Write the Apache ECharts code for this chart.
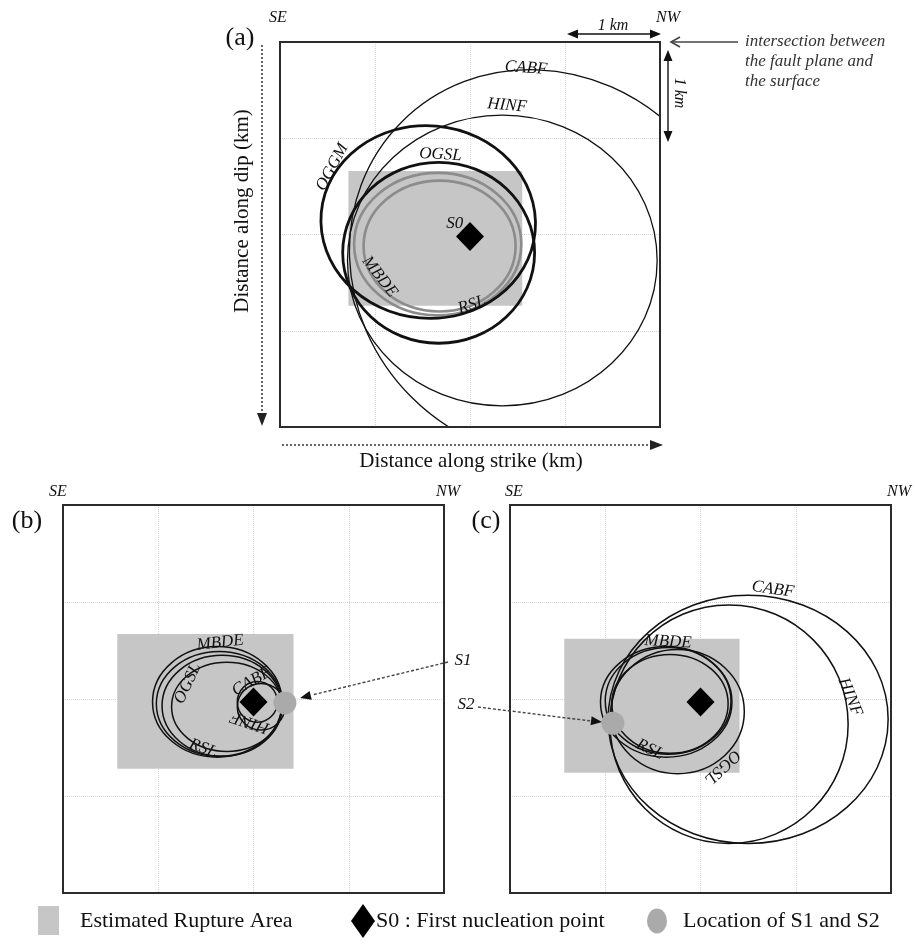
<!DOCTYPE html>
<html>
<head>
<meta charset="utf-8">
<script src="https://cdn.jsdelivr.net/npm/echarts@6/dist/echarts.min.js"></script>
<style>
  html, body { margin: 0; padding: 0; background: #fff; }
  #chart { width: 915px; height: 946px; }
</style>
</head>
<body>
<div id="chart"></div>
<script>
// every panel is a 4 km x 4 km piece of the fault plane, dotted grid each km
const kmTicks = [0, 1, 2, 3, 4];

// estimated rupture area [x0, y0, x1, y1] in km (x along strike, y along dip)
const ruptureA = [0.72, 1.34, 2.55, 2.74];
const ruptureB = [0.57, 1.33, 2.42, 2.72];
const ruptureC = [0.57, 1.38, 2.41, 2.76];

// nucleation points
const s0A = [2.0, 2.02];
const s0B = [2.0, 2.03];
const s0C = [2.0, 2.03];
const s1B = [2.33, 2.04];
const s2C = [1.08, 2.25];

// source ellipses: [cx, cy, rx, ry, tilt deg]
const thickNamesA = ['OGGM', 'OGSL'];
const thickA = [[1.56, 1.87, 1.13, 1.00, -5], [1.67, 2.19, 1.01, 0.94, 0]];
const grayNamesA = ['MBDE', 'RSL'];
const grayA = [[1.66, 2.10, 0.88, 0.74, 0], [1.68, 2.12, 0.80, 0.68, 0]];
const thinNamesA = ['CABF', 'HINF'];
const thinA = [[2.78, 2.31, 2.12, 1.95, -45], [2.34, 2.27, 1.63, 1.51, 0]];

const thinNamesB = ['MBDE', 'OGGM', 'RSL', 'OGSL', 'CABF', 'HINF'];
const thinB = [
  [1.62, 2.03, 0.68, 0.57, 0], [1.64, 2.05, 0.66, 0.54, 0], [1.67, 2.07, 0.63, 0.52, 0],
  [1.72, 2.08, 0.58, 0.46, 0], [2.04, 2.03, 0.21, 0.21, 0], [2.08, 2.08, 0.25, 0.24, 0]
];

const thinNamesC = ['CABF', 'HINF', 'MBDE', 'OGGM', 'RSL', 'OGSL'];
const thinC = [
  [2.50, 2.21, 1.47, 1.28, 0], [2.30, 2.26, 1.25, 1.23, 0], [1.64, 2.03, 0.69, 0.57, 0],
  [1.66, 2.02, 0.66, 0.55, 0], [1.68, 2.05, 0.61, 0.51, 0], [1.76, 2.13, 0.70, 0.64, 0]
];

// curve labels: text, [x km, y km, rotation deg]
const labelTextA = ['CABF', 'HINF', 'OGGM', 'OGSL', 'MBDE', 'RSL', 'S0'];
const labelSpotA = [[2.59, 0.27, -4], [2.39, 0.66, -5], [0.55, 1.30, 62], [1.69, 1.17, -3],
  [1.05, 2.44, -52], [2.02, 2.73, 18], [1.84, 1.89, 0]];
const labelTextB = ['MBDE', 'OGSL', 'RSL', 'CABF', 'HINF'];
const labelSpotB = [[1.65, 1.42, 6], [1.31, 1.84, 65], [1.47, 2.51, -20], [1.98, 1.82, 30], [1.96, 2.24, 162]];
const labelTextC = ['CABF', 'HINF', 'MBDE', 'RSL', 'OGSL'];
const labelSpotC = [[2.76, 0.87, -8], [3.57, 1.98, -68], [1.66, 1.41, -3], [1.47, 2.52, -25], [2.23, 2.70, -137]];

const serif = '"Liberation Serif", "DejaVu Serif", serif';
const ink = '#111';

const boxes = [
  { left: 280, top: 42, width: 380, height: 385 },
  { left: 63, top: 505, width: 381, height: 388 },
  { left: 510, top: 505, width: 381, height: 388 }
];

function kmAxis(i, inverse) {
  return {
    gridIndex: i, type: 'value', min: kmTicks[0], max: kmTicks[kmTicks.length - 1],
    interval: kmTicks[1] - kmTicks[0], inverse: inverse,
    axisLine: { show: false }, axisTick: { show: false }, axisLabel: { show: false },
    splitLine: { show: true, showMinLine: false, showMaxLine: false, lineStyle: { color: '#d4d4d4', type: 'dotted', width: 1 } }
  };
}

function rectSeries(p, box) {
  return {
    type: 'custom', xAxisIndex: p, yAxisIndex: p, clip: true, z: 1, silent: true,
    encode: { x: [0, 2], y: [1, 3] }, data: [box],
    renderItem: function (params, api) {
      const a = api.coord([api.value(0), api.value(1)]);
      const b = api.coord([api.value(2), api.value(3)]);
      return {
        type: 'rect',
        shape: { x: Math.min(a[0], b[0]), y: Math.min(a[1], b[1]), width: Math.abs(b[0] - a[0]), height: Math.abs(b[1] - a[1]) },
        style: { fill: '#c6c6c6' }
      };
    }
  };
}

function ellipseSeries(p, names, list, stroke, width, z) {
  return {
    type: 'custom', xAxisIndex: p, yAxisIndex: p, clip: true, z: z, silent: true,
    encode: { x: 0, y: 1 },
    data: list.map((v, i) => ({ name: names[i], value: v })),
    renderItem: function (params, api) {
      const c = api.coord([api.value(0), api.value(1)]);
      const s = api.size([api.value(2), api.value(3)]);
      return {
        type: 'ellipse', x: c[0], y: c[1], rotation: api.value(4) * Math.PI / 180,
        shape: { cx: 0, cy: 0, rx: Math.abs(s[0]), ry: Math.abs(s[1]) },
        style: { fill: 'none', stroke: stroke, lineWidth: width }
      };
    }
  };
}

function labelSeries(p, texts, spots) {
  return {
    type: 'custom', xAxisIndex: p, yAxisIndex: p, z: 8, silent: true,
    encode: { x: 0, y: 1 }, data: spots,
    renderItem: function (params, api) {
      const c = api.coord([api.value(0), api.value(1)]);
      return {
        type: 'text', x: c[0], y: c[1], rotation: api.value(2) * Math.PI / 180,
        style: {
          text: texts[params.dataIndex], font: 'italic 17px ' + serif, fill: ink,
          align: 'center', verticalAlign: 'middle', textAlign: 'center', textVerticalAlign: 'middle'
        }
      };
    }
  };
}

function pointSeries(p, pt, symbol, size, color) {
  return {
    type: 'scatter', xAxisIndex: p, yAxisIndex: p, z: 7, silent: true,
    symbol: symbol, symbolSize: size, itemStyle: { color: color, opacity: 1 }, data: [pt]
  };
}

// annotation helpers (pixel space)
function txt(s, x, y, size, opts) {
  opts = opts || {};
  return {
    type: 'text', x: x, y: y, rotation: (opts.rot || 0) * Math.PI / 180, z: 20,
    style: {
      text: s, font: (opts.italic ? 'italic ' : '') + size + 'px ' + serif, fill: opts.color || ink,
      align: opts.align || 'center', verticalAlign: 'middle',
      textAlign: opts.align || 'center', textVerticalAlign: 'middle'
    }
  };
}
function seg(x1, y1, x2, y2, color, width, dash) {
  return {
    type: 'line', z: 20, shape: { x1: x1, y1: y1, x2: x2, y2: y2 },
    style: { stroke: color, lineWidth: width, lineDash: dash || null }
  };
}
function head(tx, ty, ang, len, half, color) {
  const bx = tx - len * Math.cos(ang), by = ty - len * Math.sin(ang);
  const px = -Math.sin(ang) * half, py = Math.cos(ang) * half;
  return { type: 'polygon', z: 21, shape: { points: [[tx, ty], [bx + px, by + py], [bx - px, by - py]] }, style: { fill: color || ink } };
}
function openHead(tx, ty, ang, len, half, color) {
  const bx = tx - len * Math.cos(ang), by = ty - len * Math.sin(ang);
  const px = -Math.sin(ang) * half, py = Math.cos(ang) * half;
  return { type: 'polyline', z: 21, shape: { points: [[bx + px, by + py], [tx, ty], [bx - px, by - py]] }, style: { stroke: color, lineWidth: 1.6, fill: null } };
}

// panel frames drawn on top so nothing covers them
const frames = boxes.map(b => ({
  type: 'rect', z: 19, silent: true,
  shape: { x: b.left, y: b.top, width: b.width, height: b.height },
  style: { fill: null, stroke: '#2b2b2b', lineWidth: 2 }
}));

const notes = frames.concat([
  txt('(a)', 240, 38, 26), txt('(b)', 27, 521, 26), txt('(c)', 486, 521, 26),
  txt('SE', 278, 18, 16, { italic: true }), txt('NW', 668, 18, 16, { italic: true }),
  txt('SE', 58, 492, 16, { italic: true }), txt('NW', 448, 492, 16, { italic: true }),
  txt('SE', 514, 492, 16, { italic: true }), txt('NW', 899, 492, 16, { italic: true }),
  // 1 km scale arrows
  seg(575, 34, 652, 34, ink, 1.4), head(567, 34, Math.PI, 11, 4.5), head(661, 34, 0, 11, 4.5),
  txt('1 km', 613, 26, 16, { italic: true }),
  seg(668, 60, 668, 132, ink, 1.4), head(668, 50, -Math.PI / 2, 11, 4.5), head(668, 142, Math.PI / 2, 11, 4.5),
  txt('1 km', 679, 93, 16, { italic: true, rot: -90 }),
  // intersection note
  seg(672, 42, 738, 42, '#444', 1.6), openHead(671, 42, Math.PI, 9, 5, '#444'),
  txt('intersection between', 745, 42, 17, { italic: true, align: 'left', color: '#333' }),
  txt('the fault plane and', 745, 62, 17, { italic: true, align: 'left', color: '#333' }),
  txt('the surface', 745, 82, 17, { italic: true, align: 'left', color: '#333' }),
  // dotted axis arrows for panel (a)
  seg(262, 45, 262, 413, '#666', 2, [2, 2]), head(262, 426, Math.PI / 2, 13, 5, '#222'),
  seg(282, 445, 650, 445, '#666', 2, [2, 2]), head(663, 445, 0, 13, 5, '#222'),
  txt('Distance along dip (km)', 242, 211, 21, { rot: 90 }),
  txt('Distance along strike (km)', 471, 461, 21),
  // S1 / S2 pointers
  seg(448, 662, 312, 695, '#444', 1.4, [3, 2]), head(300, 698, Math.atan2(698 - 662, 300 - 448), 11, 4.5, '#111'),
  txt('S1', 463, 661, 17, { italic: true }),
  seg(478, 707, 591, 721, '#444', 1.4, [3, 2]), head(602, 722, Math.atan2(722 - 707, 602 - 478), 11, 4.5, '#111'),
  txt('S2', 466, 705, 17, { italic: true }),
  // legend
  { type: 'rect', z: 20, shape: { x: 38, y: 906, width: 21, height: 29 }, style: { fill: '#c6c6c6' } },
  txt('Estimated Rupture Area', 80, 921, 22, { align: 'left' }),
  { type: 'polygon', z: 20, shape: { points: [[363, 904], [375, 921], [363, 938], [351, 921]] }, style: { fill: '#000' } },
  txt('S0 : First nucleation point', 376, 921, 22, { align: 'left' }),
  { type: 'circle', z: 20, x: 657, y: 921, scaleY: 1.25, shape: { cx: 0, cy: 0, r: 10 }, style: { fill: '#aaaaaa' } },
  txt('Location of S1 and S2', 683, 921, 22, { align: 'left' })
]);

const option = {
  backgroundColor: '#fff',
  animation: false,
  grid: boxes.map(b => Object.assign({
    show: false, containLabel: false, outerBoundsMode: 'none'
  }, b)),
  xAxis: [kmAxis(0, false), kmAxis(1, false), kmAxis(2, false)],
  yAxis: [kmAxis(0, true), kmAxis(1, true), kmAxis(2, true)],
  graphic: { elements: notes },
  series: [
    rectSeries(0, ruptureA),
    ellipseSeries(0, grayNamesA, grayA, '#8c8c8c', 2.6, 2),
    ellipseSeries(0, thinNamesA, thinA, ink, 1.3, 3),
    ellipseSeries(0, thickNamesA, thickA, ink, 2.8, 4),
    pointSeries(0, s0A, 'diamond', [28, 29], '#000'),
    labelSeries(0, labelTextA, labelSpotA),

    rectSeries(1, ruptureB),
    ellipseSeries(1, thinNamesB, thinB, ink, 1.5, 3),
    pointSeries(1, s0B, 'diamond', [28, 29], '#000'),
    pointSeries(1, s1B, 'circle', 23, '#aaaaaa'),
    labelSeries(1, labelTextB, labelSpotB),

    rectSeries(2, ruptureC),
    ellipseSeries(2, thinNamesC, thinC, ink, 1.5, 3),
    pointSeries(2, s0C, 'diamond', [28, 29], '#000'),
    pointSeries(2, s2C, 'circle', 23, '#aaaaaa'),
    labelSeries(2, labelTextC, labelSpotC)
  ]
};

const chart = echarts.init(document.getElementById('chart'));
chart.setOption(option);
</script>
</body>
</html>
